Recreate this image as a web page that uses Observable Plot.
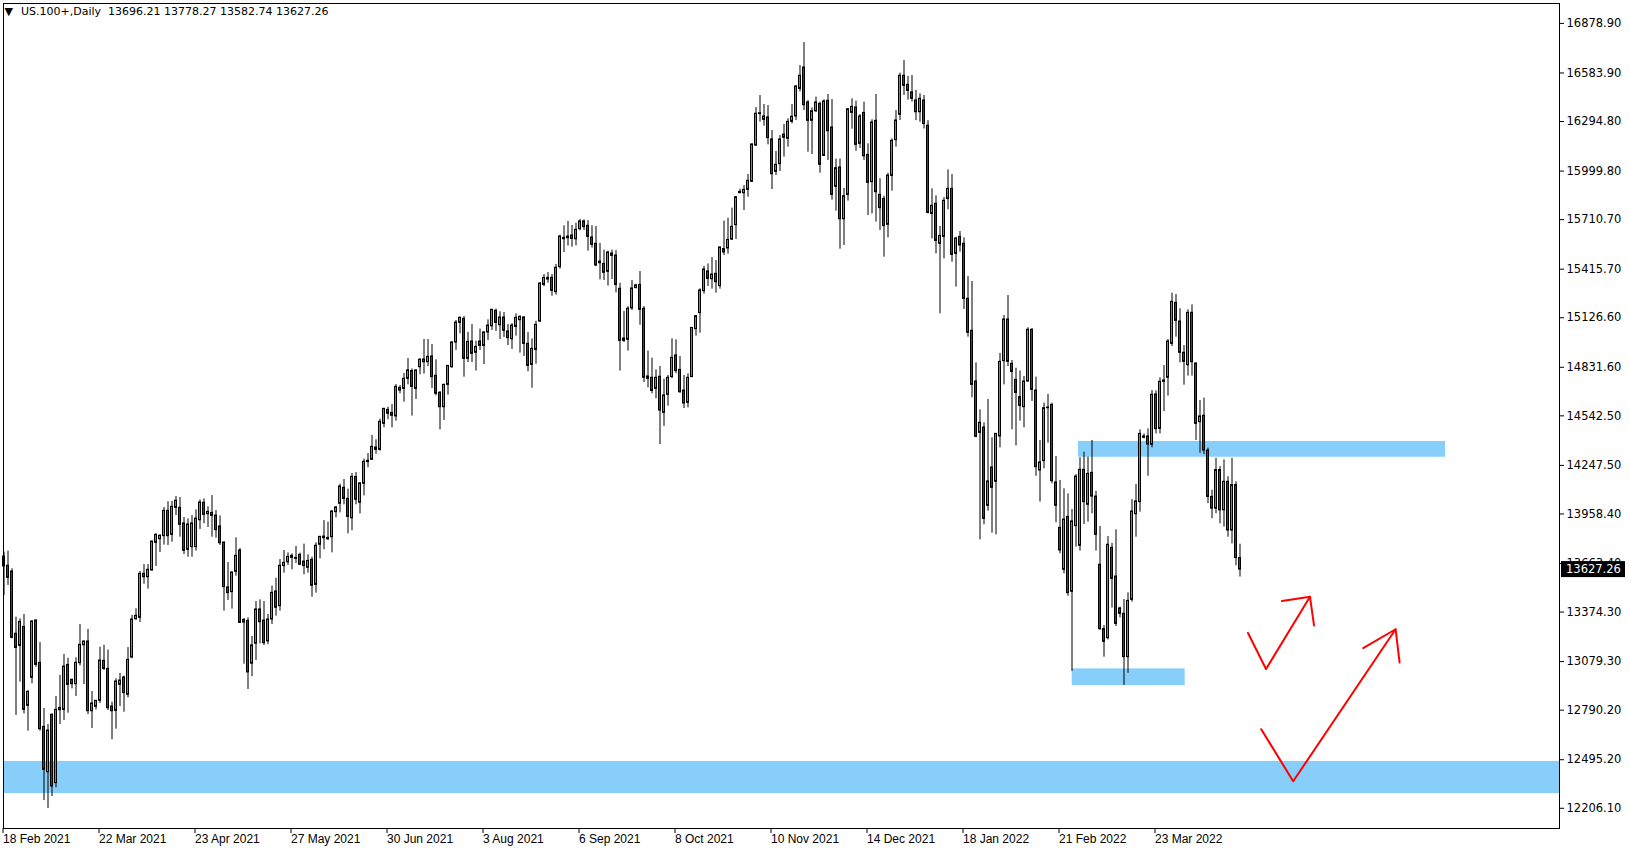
<!DOCTYPE html>
<html><head><meta charset="utf-8">
<script src="https://cdn.jsdelivr.net/npm/d3@7"></script>
<script src="https://cdn.jsdelivr.net/npm/@observablehq/plot@0.6"></script>
<style>html,body{margin:0;padding:0;background:#fff;}#chart svg{display:block;}</style>
</head><body><div id="chart"></div>
<script>
// ---- data (US.100+, Daily) ----
const opens = [
13705,13650,13616,13245,13173,13286,12816,12983,13324,13072,
12691,12421,12762,12356,12804,12792,13060,12971,12945,13070,
13177,13199,12784,12810,12846,13084,13036,12812,12786,12941,
12985,12882,13104,13332,13340,13602,13582,13622,13786,13808,
13826,13977,13834,13995,13995,13902,13745,13761,13761,13921,
14025,13957,13965,13949,13884,13788,13521,13493,13614,13741,
13328,13322,13067,13186,13390,13324,13200,13330,13497,13410,
13648,13671,13709,13697,13715,13675,13638,13685,13536,13775,
13814,13816,13820,13969,14019,14114,14048,13933,14179,14025,
14138,14267,14281,14354,14340,14495,14578,14560,14539,14709,
14703,14763,14809,14703,14832,14878,14862,14896,14781,14680,
14594,14727,14832,14979,15096,15120,14882,14985,14918,14985,
14959,15039,15076,15168,15082,15128,15045,14999,15072,15112,
15128,14971,14846,14935,15104,15322,15354,15364,15279,15428,
15602,15600,15616,15594,15654,15700,15674,15604,15567,15461,
15447,15400,15509,15497,15299,15003,14995,15182,15303,15322,
15180,14777,14769,14703,14775,14560,14668,14773,14902,14816,
14693,14620,14773,15059,15154,15285,15402,15356,15388,15315,
15535,15539,15592,15678,15868,15868,15888,15936,16152,16339,
16305,16319,16188,15995,16041,16217,16192,16293,16325,16489,
16616,16408,16299,16356,16400,16090,16418,16259,15906,16021,
15713,15858,16346,16378,16162,16346,16096,15934,16299,15858,
15834,15680,15971,16184,16335,16567,16513,16468,16420,16350,
16420,16270,15745,15805,15567,15608,15834,15894,15507,15608,
15567,15239,15049,14747,14441,14473,14007,14235,14150,14420,
14868,15116,14852,14757,14654,14594,14747,15055,14693,14217,
14273,14588,14608,14146,13876,13626,13941,13495,13886,13769,
14221,14013,14203,14062,13656,13273,13219,13757,13586,13396,
13364,13106,13447,13957,14029,14412,14420,14370,14670,14465,
14745,14769,14971,15215,15104,14918,14844,15156,14854,14505,
14543,14336,14060,13990,14220,13980,14150,13860,14130,13696.21];
const highs = [
13731,13737,13632,13344,13334,13360,12907,13324,13328,13193,
12800,12705,12770,12872,12997,13122,13100,12975,13102,13300,
13202,13271,12901,12848,13165,13177,13148,12838,12977,13009,
12993,13163,13354,13394,13616,13657,13657,13797,13842,13836,
13997,14031,14033,14062,14056,13937,13929,13949,13983,14042,
14048,14001,14068,13979,13947,13792,13669,13612,13816,13753,
13336,13340,13229,13437,13447,13437,13360,13529,13576,13687,
13741,13727,13721,13765,13725,13779,13715,13701,13787,13825,
13919,13910,13979,14003,14136,14164,14106,14199,14205,14146,
14285,14318,14426,14400,14523,14587,14594,14610,14729,14723,
14795,14884,14822,14815,14884,14997,14997,14967,14876,14687,
14731,14842,14985,15110,15132,15134,15040,15086,14987,15059,
15043,15114,15176,15178,15162,15158,15086,15092,15150,15138,
15134,15039,15001,15106,15336,15384,15396,15384,15444,15618,
15674,15700,15676,15690,15711,15709,15705,15674,15670,15569,
15529,15523,15529,15527,15332,15164,15193,15348,15326,15402,
15193,14928,14886,14816,14836,14761,14783,15001,14995,14896,
14783,14793,15068,15140,15299,15432,15447,15485,15467,15547,
15702,15719,15779,15848,15892,15914,15979,16162,16378,16450,
16396,16390,16241,16116,16212,16277,16311,16396,16509,16628,
16765,16420,16376,16440,16410,16424,16456,16426,16071,16071,
15896,16370,16430,16416,16337,16410,16162,16305,16456,15954,
15850,15987,16192,16360,16583,16658,16563,16569,16480,16460,
16450,16300,15894,15852,15670,15842,16007,15979,15606,15640,
15602,15372,15342,14858,14578,14501,14640,14412,14438,14914,
15140,15259,14872,14826,14810,14777,15067,15061,14773,14396,
14618,14670,14618,14300,14158,14108,14078,13985,14193,14293,
14326,14297,14396,14094,13884,13294,13824,13783,13864,13404,
13449,13489,14044,14134,14459,14435,14465,14693,14691,14769,
14842,14997,15273,15265,15180,14961,15174,15203,14858,14634,
14648,14350,14100,14290,14240,14280,14180,14290,14150,13778.27];
const lows = [
13473,13533,13215,12759,12957,12768,12665,12947,13046,12665,
12252,12205,12276,12328,12705,12729,12772,12917,12872,13054,
12943,12764,12681,12792,12830,13026,12788,12614,12677,12812,
12778,12864,13096,13324,13312,13540,13511,13618,13646,13729,
13773,13771,13790,13949,13820,13717,13701,13701,13737,13866,
13900,13878,13820,13814,13771,13380,13443,13392,13588,13306,
13064,12913,12990,13086,13185,13175,13180,13300,13350,13380,
13606,13652,13626,13663,13652,13596,13606,13463,13487,13691,
13745,13800,13727,13935,13965,14013,13840,13858,14013,13959,
14066,14233,14277,14314,14332,14471,14519,14471,14511,14674,
14624,14727,14541,14640,14787,14791,14836,14705,14662,14459,
14515,14666,14826,14932,15031,14773,14860,14860,14809,14932,
14848,14991,15051,15045,14997,15009,14961,14938,15017,14916,
14896,14805,14707,14850,15098,15311,15332,15255,15261,15416,
15515,15553,15547,15555,15644,15646,15523,15541,15430,15352,
15348,15315,15354,15275,14809,14979,14928,15170,15299,15082,
14741,14709,14674,14644,14372,14480,14600,14765,14793,14677,
14586,14590,14770,15017,15035,15267,15313,15297,15273,15297,
15497,15505,15586,15592,15866,15765,15844,15932,16146,16291,
16267,16156,15890,15973,15997,16083,16142,16281,16301,16471,
16360,16112,16098,16348,15987,16088,16063,15827,15761,15535,
15557,15821,16249,16118,16134,16063,15735,15745,15696,15646,
15487,15602,15880,16142,16301,16450,16422,16410,16300,16290,
16250,15745,15596,15507,15150,15477,15769,15457,15309,15517,
15176,15011,14650,14412,13804,13894,13975,13844,13834,14352,
14727,14836,14459,14364,14511,14471,14743,14628,14183,14029,
14227,14380,14138,13906,13721,13602,13469,13021,13761,13737,
13896,13910,13959,13737,13265,13106,13209,13398,13288,13340,
12937,13010,13433,13820,13969,14406,14183,14352,14435,14435,
14568,14660,14955,15011,14858,14725,14779,14779,14396,14320,
14312,14020,13930,13960,13900,13880,13820,13780,13650,13582.74];
const closes = [
13646,13578,13221,13161,13316,12792,12899,13318,13060,12677,
12435,12669,12336,12792,12790,13050,12941,12945,13072,13179,
13199,12784,12830,12846,13086,13036,12802,12784,12961,12967,
12892,13090,13330,13352,13602,13582,13626,13794,13834,13828,
13977,13826,14001,14037,13894,13739,13896,13902,13931,14027,
13953,13971,13947,13862,13784,13523,13487,13610,13709,13310,
13312,13015,13176,13390,13314,13189,13330,13489,13400,13650,
13667,13703,13697,13691,13656,13648,13679,13531,13769,13822,
13824,13808,13973,13997,14122,14048,13941,14179,14043,14140,
14269,14275,14358,14340,14507,14584,14555,14543,14715,14693,
14763,14813,14715,14813,14876,14862,14894,14773,14674,14594,
14727,14840,14979,15098,15126,14882,14983,14912,14953,14959,
15039,15080,15174,15096,15128,15049,15005,15080,15126,15132,
14971,14840,14941,15084,15330,15364,15364,15287,15424,15610,
15594,15610,15596,15650,15700,15666,15608,15561,15438,15451,
15394,15515,15495,15322,14989,14989,15180,15301,15319,15174,
14769,14763,14691,14769,14574,14664,14769,14888,14809,14683,
14616,14769,15066,15136,15289,15414,15358,15384,15338,15545,
15515,15590,15668,15844,15876,15888,15942,16158,16341,16344,
16325,16196,15981,16037,16188,16198,16293,16323,16503,16567,
16392,16299,16356,16408,16037,16414,16237,15858,16017,15713,
15850,16368,16382,16156,16325,16088,15930,16289,15874,15779,
15672,15973,16180,16301,16567,16507,16477,16430,16350,16430,
16280,15751,15793,15584,15614,15823,15894,15501,15598,15557,
15239,15037,14727,14418,14501,13929,14152,14114,14435,14864,
15116,14864,14804,14679,14602,14747,15055,14697,14237,14265,
14588,14592,14154,14007,13741,13925,13487,13914,14181,14221,
14029,14197,14062,13834,13273,13197,13775,13572,13304,13364,
13106,13441,13973,14033,14435,14420,14372,14668,14463,14745,
14753,14985,15221,15108,14918,14864,15156,14862,14495,14539,
14336,14060,13990,14220,13980,14150,13860,14130,13696,13627.26];

// axis labels
const dateIdx = [0,24,48,72,96,120,144,168,192,216,240,264,288];
const dateLabels = ["18 Feb 2021","22 Mar 2021","23 Apr 2021","27 May 2021","30 Jun 2021","3 Aug 2021","6 Sep 2021","8 Oct 2021","10 Nov 2021","14 Dec 2021","18 Jan 2022","21 Feb 2022","23 Mar 2022"];
const priceTicks = [16878.90,16583.90,16294.80,15999.80,15710.70,15415.70,15126.60,14831.60,14542.50,14247.50,13958.40,13663.40,13374.30,13079.30,12790.20,12495.20,12206.10];

// annotations (bar index, price)
const bandZone = [{lo: 12294, hi: 12485}];
const boxZones = [
  {i1: 268.6, i2: 360.4, lo: 14296, hi: 14390},
  {i1: 267.05, i2: 295.3, lo: 12937, hi: 13036}
];
const arrow1 = [[311, 13250], [315.5, 13035], [326.5, 13465]];
const arrow1Head = [[319.5, 13440], [326.5, 13465], [327.5, 13295]];
const arrow2 = [[314.3, 12677], [322.3, 12367], [347.9, 13272]];
const arrow2Head = [[339.8, 13160], [347.9, 13272], [348.9, 13074]];

const symbol = "US.100+,Daily";

// ---- build ----
const bars = opens.map((o, i) => ({i, o, h: highs[i], l: lows[i], c: closes[i]}));
const last = bars[bars.length - 1];
const header = `${symbol}\u00a0\u00a0${last.o.toFixed(2)} ${last.h.toFixed(2)} ${last.l.toFixed(2)} ${last.c.toFixed(2)}`;

const BULL = "#00e000", BEAR = "#e00000", ZONE = "#87cefa", ARROW = "#ff0000";
const priceFont = "'DejaVu Sans', Verdana, sans-serif";
const dateFont = "'Liberation Sans', Arial, sans-serif";

const plot = Plot.plot({
  width: 1629, height: 850,
  marginLeft: 3, marginRight: 70, marginTop: 3, marginBottom: 22,
  style: {background: "#fff", color: "#000", overflow: "visible"},
  x: {type: "linear", domain: [-0.125, 388.875], axis: null},
  y: {type: "linear", domain: [12085.8, 16997.4], axis: null},
  marks: [
    Plot.rect(bandZone, {y1: "lo", y2: "hi", fill: ZONE}),
    Plot.rect(boxZones, {x1: "i1", x2: "i2", y1: "lo", y2: "hi", fill: ZONE}),
    Plot.ruleX(bars, {x: "i", y1: "l", y2: "h", stroke: "#000", strokeWidth: 1}),
    Plot.rect(bars, {
      x1: d => d.i - 0.25, x2: d => d.i + 0.25,
      y1: "o", y2: "c",
      fill: d => d.c >= d.o ? BULL : BEAR,
      stroke: "#000", strokeWidth: 1
    }),
    Plot.line(arrow1, {x: d => d[0], y: d => d[1], stroke: ARROW, strokeWidth: 2}),
    Plot.line(arrow1Head, {x: d => d[0], y: d => d[1], stroke: ARROW, strokeWidth: 2}),
    Plot.line(arrow2, {x: d => d[0], y: d => d[1], stroke: ARROW, strokeWidth: 2}),
    Plot.line(arrow2Head, {x: d => d[0], y: d => d[1], stroke: ARROW, strokeWidth: 2}),
    Plot.frame({stroke: "#000", strokeWidth: 1}),
    Plot.axisY(priceTicks, {
      anchor: "right", tickSize: 4, tickPadding: 3,
      tickFormat: d => d.toFixed(2),
      fontSize: 11.5, fontFamily: priceFont, fill: "#000", stroke: "#000"
    }),
    Plot.axisX(dateIdx, {
      anchor: "bottom", tickSize: 5, tickPadding: 1,
      textAnchor: "start", dx: -1,
      tickFormat: d => dateLabels[dateIdx.indexOf(d)],
      fontSize: 12, fontFamily: dateFont, fill: "#000", stroke: "#000"
    }),
    Plot.text(["\u25BC"], {frameAnchor: "top-left", dx: 1, dy: 4, lineAnchor: "top", textAnchor: "start", fontSize: 11, fontFamily: priceFont, fill: "#000"}),
    Plot.text([header], {frameAnchor: "top-left", dx: 17.5, dy: 3.5, lineAnchor: "top", textAnchor: "start", fontSize: 11, fontFamily: priceFont, fill: "#000"})
  ]
});

document.getElementById("chart").appendChild(plot);

// current price label on the price scale
const ySc = plot.scale("y");
const yy = ySc.apply(last.c);
const svg = d3.select(plot);
const g = svg.append("g");
g.append("rect").attr("x", 1561).attr("y", yy - 8).attr("width", 64).attr("height", 16).attr("fill", "#000");
g.append("text").attr("x", 1566).attr("y", yy).attr("dy", "0.36em")
  .attr("text-anchor", "start")
  .attr("font-family", priceFont).attr("font-size", 11.5).attr("fill", "#fff")
  .text(last.c.toFixed(2));
</script>
</body></html>
